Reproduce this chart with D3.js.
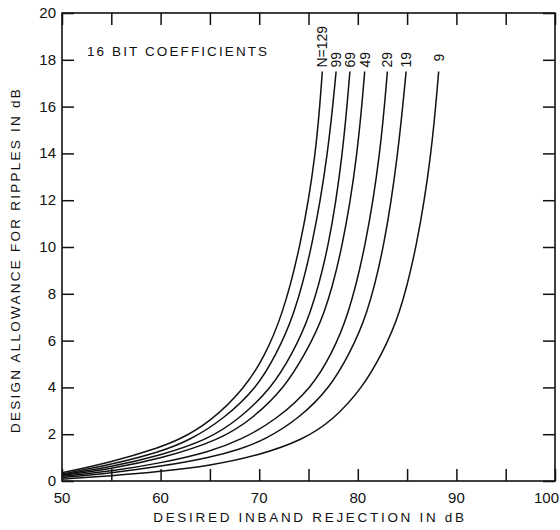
<!DOCTYPE html>
<html>
<head>
<meta charset="utf-8">
<script src="https://cdn.jsdelivr.net/npm/d3@7"></script>
<style>
  html, body { margin: 0; padding: 0; background: #fff; }
  svg { display: block; }
  text { font-family: "Liberation Sans", Arial, sans-serif; fill: #111; }
</style>
</head>
<body>
<svg id="chart" width="560" height="530"></svg>
<script>
// Filter length labels, one per curve
const seriesNames = ["N=129", "99", "69", "49", "29", "19", "9"];

// Each curve: [desired inband rejection (dB), design allowance (dB)]
const curveN129 = [[50, 0.35], [55, 0.8], [60, 1.45], [61.8, 1.75], [65, 2.5], [68.6, 4], [70.5, 5.3], [72.3, 7], [74.2, 10], [75.8, 14], [76.4, 17.5]];
const curveN99  = [[50, 0.3], [55, 0.7], [60, 1.25], [63.0, 1.75], [66.4, 2.65], [69.8, 4], [71.7, 5.4], [73.5, 7], [75.4, 10], [77.0, 14], [77.8, 17.5]];
const curveN69  = [[50, 0.27], [55, 0.6], [60, 1.1], [64.7, 1.75], [68.0, 2.65], [71.3, 4], [73.3, 5.4], [75.15, 7], [77.1, 10], [78.5, 14], [79.2, 17.5]];
const curveN49  = [[50, 0.24], [55, 0.52], [60, 0.95], [66.0, 1.75], [69.3, 2.65], [72.6, 4], [74.6, 5.4], [76.6, 7], [78.5, 10], [80.0, 14], [80.7, 17.5]];
const curveN29  = [[50, 0.2], [55, 0.42], [60, 0.76], [65, 1.25], [68.1, 1.75], [71.7, 2.6], [75.35, 4], [77.3, 5.4], [79.0, 7], [80.8, 10], [82.3, 14], [83.0, 17.5]];
const curveN19  = [[50, 0.15], [55, 0.34], [60, 0.62], [65, 1.0], [68, 1.35], [70.5, 1.75], [74.0, 2.65], [77.2, 4], [79.1, 5.4], [80.9, 7], [82.7, 10], [84.1, 14], [84.9, 17.5]];
const curveN9   = [[50, 0.08], [55, 0.22], [60, 0.4], [65, 0.65], [70, 1.1], [74.4, 1.75], [77.5, 2.6], [80.5, 4], [82.4, 5.4], [84.2, 7], [86.0, 10], [87.5, 14], [88.2, 17.5]];

const allCurves = [curveN129, curveN99, curveN69, curveN49, curveN29, curveN19, curveN9];

// Axis ticks
const xTickValues = [50, 55, 60, 65, 70, 75, 80, 85, 90, 95, 100];
const xTickLabels = [50, 60, 70, 80, 90, 100];
const yTickValues = [0, 2, 4, 6, 8, 10, 12, 14, 16, 18, 20];

const xTitle = "DESIRED INBAND REJECTION IN dB";
const yTitle = "DESIGN ALLOWANCE FOR RIPPLES IN dB";
const noteText = "16 BIT COEFFICIENTS";

const svg = d3.select("#chart");
const plotLeft = 62, plotRight = 555, plotTop = 13, plotBottom = 481;

const x = d3.scaleLinear().domain([50, 100]).range([plotLeft, plotRight]);
const y = d3.scaleLinear().domain([0, 20]).range([plotBottom, plotTop]);

const ink = "#111";
const tickLen = 12;

// Frame
svg.append("rect")
  .attr("x", plotLeft).attr("y", plotTop)
  .attr("width", plotRight - plotLeft).attr("height", plotBottom - plotTop)
  .attr("fill", "none").attr("stroke", ink).attr("stroke-width", 1.6);

// Inward ticks on all four sides
const bottomAxis = d3.axisBottom(x).tickValues(xTickValues).tickSize(-tickLen).tickFormat("");
const topAxis = d3.axisTop(x).tickValues(xTickValues).tickSize(-tickLen).tickFormat("");
const leftAxis = d3.axisLeft(y).tickValues(yTickValues).tickSize(-tickLen).tickFormat("");
const rightAxis = d3.axisRight(y).tickValues(yTickValues).tickSize(-tickLen).tickFormat("");

function styleAxis(g) {
  g.select(".domain").remove();
  g.selectAll(".tick line").attr("stroke", ink).attr("stroke-width", 1.5);
}
svg.append("g").attr("transform", `translate(0,${plotBottom})`).call(bottomAxis).call(styleAxis);
svg.append("g").attr("transform", `translate(0,${plotTop})`).call(topAxis).call(styleAxis);
svg.append("g").attr("transform", `translate(${plotLeft},0)`).call(leftAxis).call(styleAxis);
svg.append("g").attr("transform", `translate(${plotRight},0)`).call(rightAxis).call(styleAxis);

// Tick labels (the last one is pulled in so it stays on the page)
svg.append("g").selectAll("text")
  .data(xTickLabels).join("text")
  .attr("x", d => d === 100 ? x(d) + 4 : x(d))
  .attr("y", plotBottom + 22)
  .attr("text-anchor", d => d === 100 ? "end" : "middle")
  .attr("font-size", 15)
  .text(d => d);

svg.append("g").selectAll("text")
  .data(yTickValues).join("text")
  .attr("x", plotLeft - 6).attr("y", d => y(d) + 5)
  .attr("text-anchor", "end")
  .attr("font-size", 15)
  .text(d => d);

// Axis titles
svg.append("text")
  .attr("x", 310).attr("y", 522)
  .attr("text-anchor", "middle")
  .attr("font-size", 13.5)
  .attr("letter-spacing", 2.7)
  .text(xTitle);

svg.append("text")
  .attr("transform", `translate(20,260) rotate(-90)`)
  .attr("text-anchor", "middle")
  .attr("font-size", 13.5)
  .attr("letter-spacing", 2.25)
  .text(yTitle);

svg.append("text")
  .attr("x", 87).attr("y", 56)
  .attr("font-size", 13.5)
  .attr("letter-spacing", 2.1)
  .text(noteText);

// Curves
const line = d3.line()
  .x(d => x(d[0]))
  .y(d => y(d[1]))
  .curve(d3.curveBasis);

svg.append("g").selectAll("path")
  .data(allCurves).join("path")
  .attr("d", line)
  .attr("fill", "none")
  .attr("stroke", ink)
  .attr("stroke-width", 1.5);

// Curve labels, written upward above each curve's end
svg.append("g").selectAll("text")
  .data(allCurves).join("text")
  .attr("transform", (d, i) => {
    const end = d[d.length - 1];
    const gap = seriesNames[i] === "9" ? 10 : 4;
    return `translate(${x(end[0]) + 5},${y(end[1]) - gap}) rotate(-90)`;
  })
  .attr("text-anchor", "start")
  .attr("font-size", 14)
  .text((d, i) => seriesNames[i]);
</script>
</body>
</html>
